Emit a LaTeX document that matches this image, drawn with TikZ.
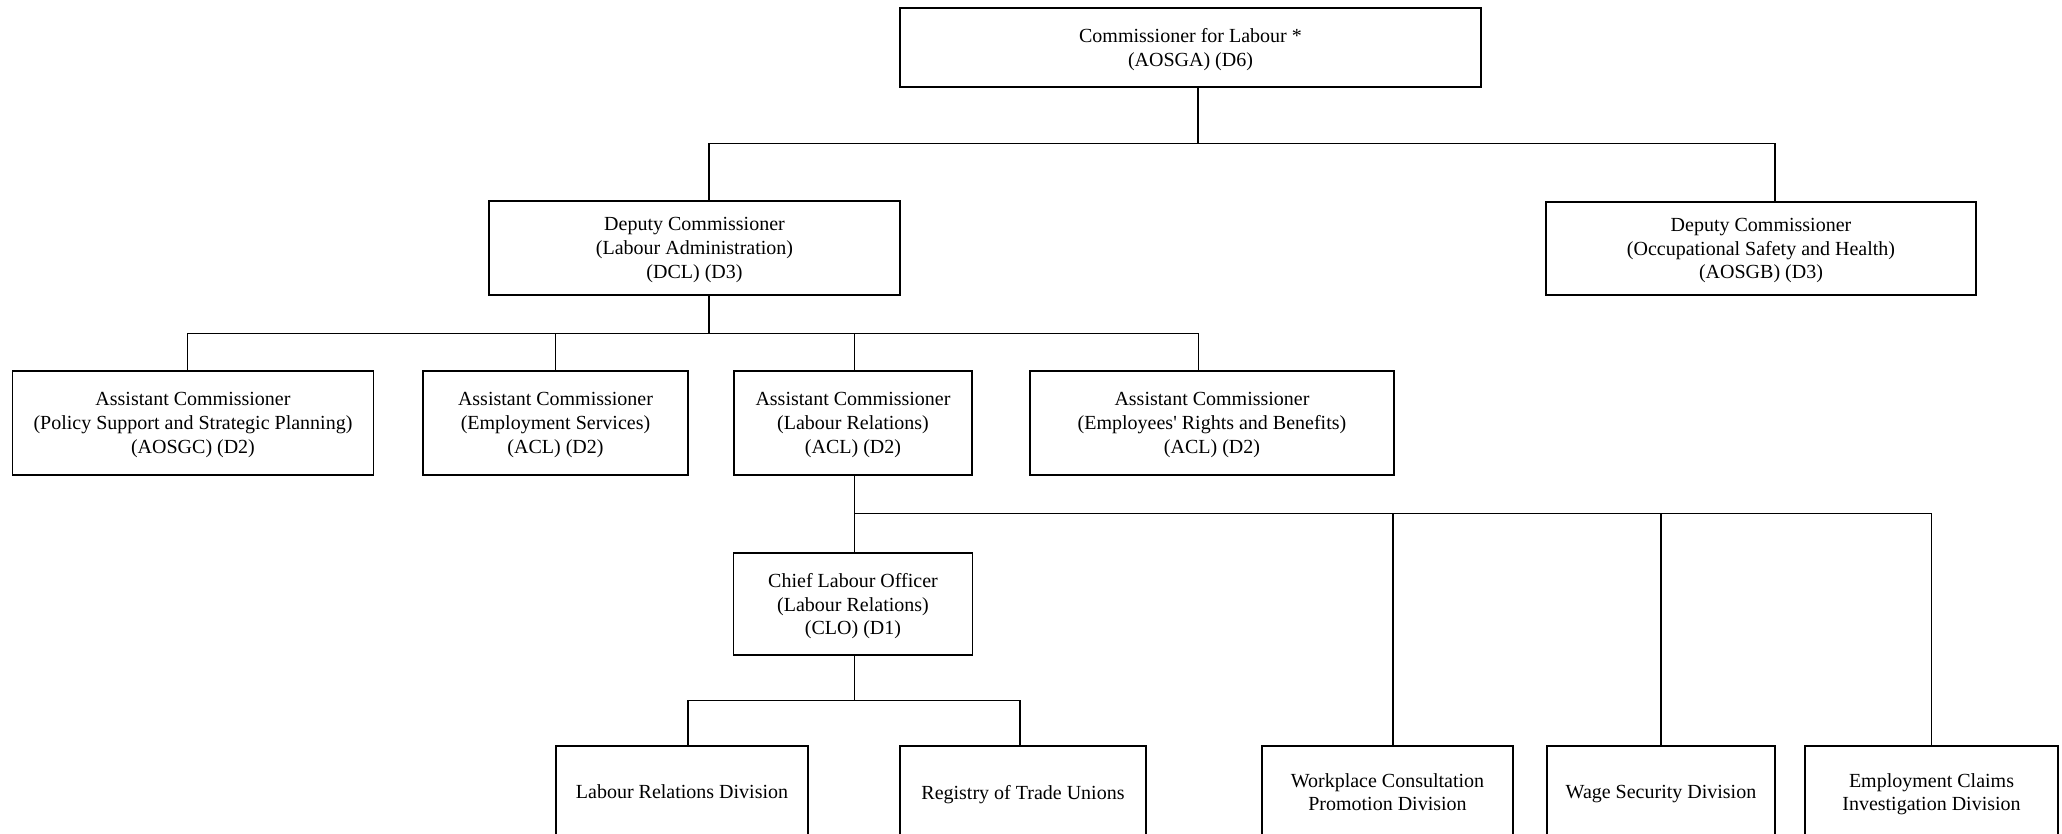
\documentclass[tikz,border=0pt]{standalone}
\usepackage{fontspec}
\setmainfont{Liberation Serif}[Ligatures=TeXOff]
\usepackage{tikz}

\tikzset{post/.style={draw, line width=0.55pt, align=center, inner sep=0pt, text depth=0pt, font=\fontsize{10}{11.85}\selectfont}}

\begin{document}
\begin{tikzpicture}[x=0.5pt,y=0.5pt,yscale=-1,xscale=1]
\useasboundingbox (0,0) rectangle (2062,834);

% Text Node
\node [post, minimum width=290.5pt, minimum height=39.5pt] (cfl) at (1190.5,47.5) {Commissioner for Labour *\\(AOSGA) (D6)};
% Text Node
\node [post, minimum width=205.5pt, minimum height=47pt] (dcl) at (694.5,248) {Deputy Commissioner\\(Labour Administration)\\(DCL) (D3)};
% Text Node
\node [post, minimum width=215pt, minimum height=46.5pt] (osh) at (1761,248.5) {Deputy Commissioner\\(Occupational Safety and Health)\\(AOSGB) (D3)};
% Text Node
\node [post, minimum width=180.75pt, minimum height=52pt] (aosgc) at (193,423) {Assistant Commissioner\\(Policy Support and Strategic Planning)\\(AOSGC) (D2)};
% Text Node
\node [post, minimum width=132.5pt, minimum height=52pt] (acles) at (555.5,423) {Assistant Commissioner\\(Employment Services)\\(ACL) (D2)};
% Text Node
\node [post, minimum width=119pt, minimum height=52pt] (aclr) at (853,423) {Assistant Commissioner\\(Labour Relations)\\(ACL) (D2)};
% Text Node
\node [post, minimum width=182pt, minimum height=52pt] (acerb) at (1212,423) {Assistant Commissioner\\(Employees' Rights and Benefits)\\(ACL) (D2)};
% Text Node
\node [post, minimum width=119.5pt, minimum height=51pt] (clo) at (853,604) {Chief Labour Officer\\(Labour Relations)\\(CLO) (D1)};
% Text Node
\node [post, minimum width=126pt, minimum height=46pt] (lrd) at (682,792) {Labour Relations Division};
% Text Node
\node [post, minimum width=123pt, minimum height=46pt] (rtu) at (1023,792) {Registry of Trade Unions};
% Text Node
\node [post, minimum width=125.5pt, minimum height=46pt] (wcp) at (1387.5,792) {Workplace Consultation\\Promotion Division};
% Text Node
\node [post, minimum width=114pt, minimum height=46pt] (wsd) at (1661,792) {Wage Security Division};
% Text Node
\node [post, minimum width=126.5pt, minimum height=46pt] (eci) at (1931.5,792) {Employment Claims\\Investigation Division};

%Straight Lines
\draw [line width=0.55pt] ([xshift=3.75pt]cfl.south) -- ++(0,56) coordinate (b1);
\draw [line width=0.55pt] ([xshift=7.25pt]dcl.north) |- (b1) -| ([xshift=7pt]osh.north);
%Straight Lines
\draw [line width=0.55pt] ([xshift=7.25pt]dcl.south) -- ++(0,38) coordinate (b2);
\draw [line width=0.55pt] ([xshift=-2.75pt]aosgc.north) |- (b2) -| ([xshift=-6.65pt]acerb.north);
\draw [line width=0.55pt] (acles.north) -- (acles.north |- b2);
\draw [line width=0.55pt] ([xshift=.75pt]aclr.north) -- ([xshift=.75pt]aclr.north |- b2);
%Straight Lines
\draw [line width=0.55pt] ([xshift=.75pt]aclr.south) -- ([xshift=.75pt]clo.north);
\draw [line width=0.55pt] ([xshift=.75pt]aclr.south) -- ++(0,38) coordinate (b3) -| (eci.north);
\draw [line width=0.55pt] ([xshift=2.75pt]wcp.north) -- ([xshift=2.75pt]wcp.north |- b3);
\draw [line width=0.55pt] (wsd.north) -- (wsd.north |- b3);
%Straight Lines
\draw [line width=0.55pt] ([xshift=.75pt]clo.south) -- ++(0,45) coordinate (b4);
\draw [line width=0.55pt] ([xshift=3pt]lrd.north) |- (b4) -| ([xshift=-1.5pt]rtu.north);

\end{tikzpicture}
\end{document}
